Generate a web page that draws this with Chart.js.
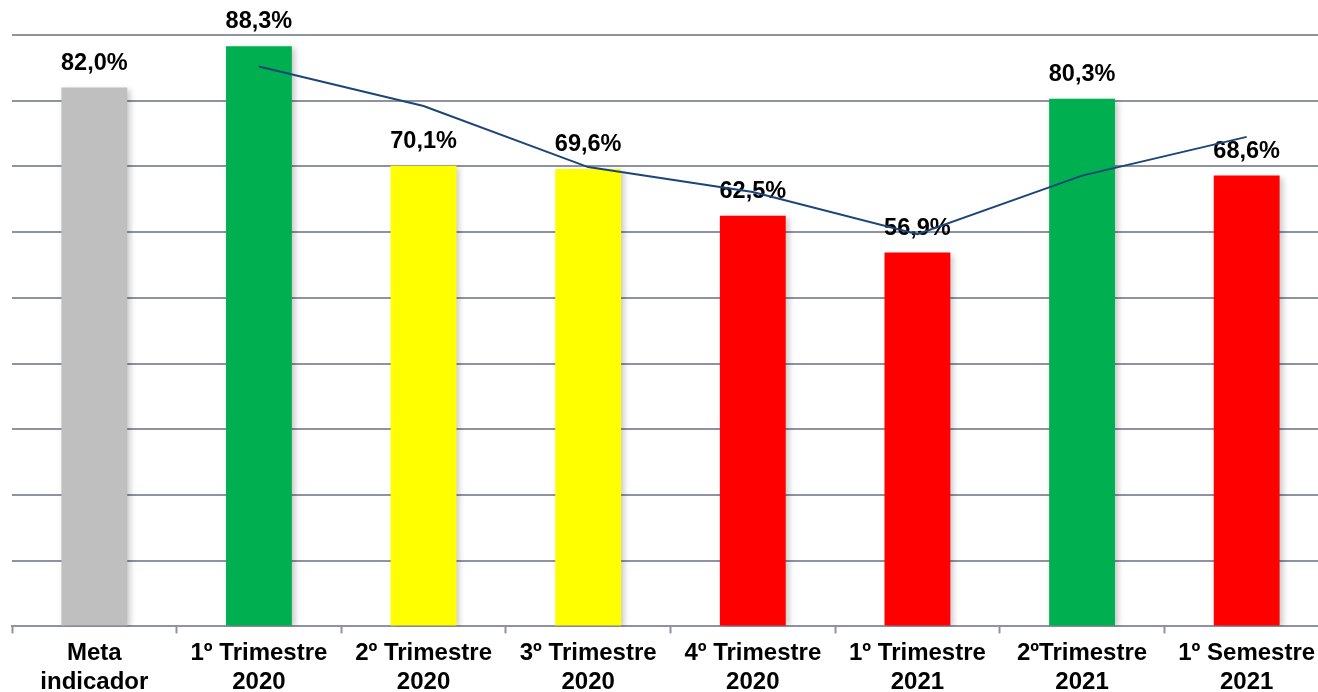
<!DOCTYPE html>
<html lang="pt">
<head>
<meta charset="utf-8">
<title>Indicador por período</title>
<script src="https://cdn.jsdelivr.net/npm/chart.js@4.4.1/dist/chart.umd.min.js"></script>
<style>
  html, body { margin: 0; padding: 0; background: #ffffff; overflow: hidden; }
  #wrap { width: 1329px; height: 703px; }
</style>
</head>
<body>
<div id="wrap"><canvas id="chart" width="1329" height="703"></canvas></div>
<script>
// Períodos avaliados
const categories = [
  ['Meta', 'indicador'],
  ['1º Trimestre', '2020'],
  ['2º Trimestre', '2020'],
  ['3º Trimestre', '2020'],
  ['4º Trimestre', '2020'],
  ['1º Trimestre', '2021'],
  ['2ºTrimestre', '2021'],
  ['1º Semestre', '2021']
];

// Resultado do indicador (%)
const values = [82.0, 88.3, 70.1, 69.6, 62.5, 56.9, 80.3, 68.6];

// Linha de tendência (média móvel de dois períodos)
const trendValues = [null, 85.2, 79.2, 69.9, 66.1, 59.7, 68.6, 74.5];

// Cor de cada barra conforme a situação frente à meta
const barColors = ['#BFBFBF', '#00B050', '#FFFF00', '#FFFF00', '#FF0000', '#FF0000', '#00B050', '#FF0000'];

// Escala do eixo Y
const yMin = 0;
const yMax = 90;
const yStep = 10;

const FONT = '"Liberation Sans", Arial, Helvetica, sans-serif';
const GRID = '#8E92A2';

// Sombra suave nas barras e rótulos de valor acima delas
const barDecor = {
  id: 'barDecor',
  beforeDatasetDraw(chart, args) {
    if (chart.data.datasets[args.index].type !== 'bar') return;
    const ctx = chart.ctx;
    ctx.save();
    ctx.shadowColor = 'rgba(0,0,0,0.22)';
    ctx.shadowBlur = 6;
    ctx.shadowOffsetX = 3;
    ctx.shadowOffsetY = 2;
  },
  afterDatasetDraw(chart, args) {
    const ds = chart.data.datasets[args.index];
    if (ds.type !== 'bar') return;
    const ctx = chart.ctx;
    ctx.restore();
    ctx.save();
    ctx.font = 'bold 23.5px ' + FONT;
    ctx.fillStyle = '#000000';
    ctx.textAlign = 'center';
    ctx.textBaseline = 'alphabetic';
    args.meta.data.forEach((bar, i) => {
      const txt = ds.data[i].toFixed(1).replace('.', ',') + '%';
      ctx.fillText(txt, bar.x, bar.y - 18);
    });
    ctx.restore();
  }
};

new Chart(document.getElementById('chart'), {
  data: {
    labels: categories,
    datasets: [
      {
        type: 'line',
        data: trendValues,
        borderColor: '#1B4677',
        borderWidth: 2,
        pointRadius: 0,
        pointHoverRadius: 0,
        tension: 0,
        fill: false,
        spanGaps: false,
        order: 0
      },
      {
        type: 'bar',
        data: values,
        backgroundColor: barColors,
        borderWidth: 0,
        categoryPercentage: 1.0,
        barPercentage: 0.4,
        order: 1
      }
    ]
  },
  options: {
    responsive: false,
    animation: false,
    devicePixelRatio: 1,
    layout: { padding: { left: 12, right: 0, top: 35, bottom: 0 } },
    plugins: {
      legend: { display: false },
      tooltip: { enabled: false },
      title: { display: false }
    },
    scales: {
      x: {
        offset: true,
        grid: {
          offset: true,
          drawOnChartArea: false,
          drawTicks: true,
          tickLength: 7,
          tickWidth: 2,
          tickColor: GRID
        },
        border: { display: true, color: GRID, width: 2 },
        ticks: {
          color: '#000000',
          padding: 6,
          maxRotation: 0,
          autoSkip: false,
          font: { family: FONT, size: 24, weight: 'bold', lineHeight: 1.2 }
        }
      },
      y: {
        min: yMin,
        max: yMax,
        ticks: { display: false, stepSize: yStep },
        grid: { color: GRID, lineWidth: 2, drawTicks: false },
        border: { display: false }
      }
    }
  },
  plugins: [barDecor]
});
</script>
</body>
</html>
